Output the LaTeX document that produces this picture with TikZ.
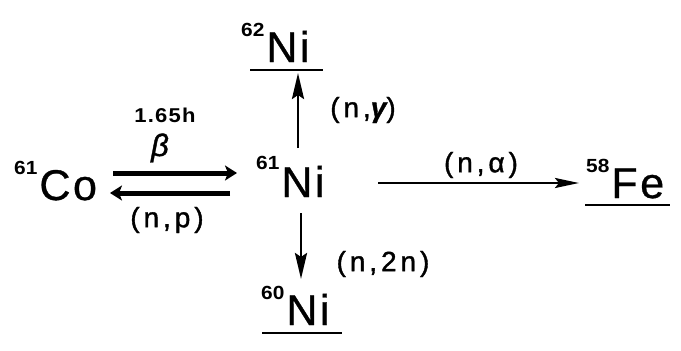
\documentclass[tikz,border=0pt]{standalone}
\usepackage{fontspec}
\setmainfont{Liberation Sans}
\newfontfamily\elfont[LetterSpace=6,FakeBold=0.8]{Liberation Sans}
\newfontfamily\labfont[LetterSpace=14,FakeBold=1.3]{Liberation Sans}
\newfontfamily\supfont[FakeStretch=1.1]{Liberation Sans Bold}
\usetikzlibrary{arrows.meta}
\newcommand\isoSup[2]{\raisebox{#1}{\supfont\fontsize{19}{19}\selectfont #2}\hspace{2pt}}
\tikzset{
  iso/.style={inner sep=0pt, anchor=base west, font={\elfont\fontsize{43}{43}\selectfont}},
  lab/.style={inner sep=0pt, font={\labfont\fontsize{28}{30}\selectfont}},
  thickarrow/.style={line width=5pt, -{Stealth[length=12pt,width=15pt,inset=3pt]}},
  thinarrow/.style={line width=2.8pt, -{Stealth[length=26pt,width=12pt,inset=4pt]}},
  longarrow/.style={line width=2.6pt, -{Stealth[length=24pt,width=10pt,inset=4pt]}},
  uline/.style={line width=2.8pt},
}
\begin{document}
\begin{tikzpicture}[x=1pt,y=-1pt]
\useasboundingbox (0,0) rectangle (681,351);
% isotopes
\node[iso] (co61) at (14,200) {\isoSup{26pt}{61}Co};
\node[iso] (ni61) at (256,197) {\isoSup{28pt}{61}Ni};
\node[iso] (ni62) at (241,62) {\isoSup{26pt}{62}Ni};
\node[iso] (ni60) at (261,325) {\isoSup{26pt}{60}Ni};
\node[iso] (fe58) at (586,198) {\isoSup{26pt}{58}Fe};
% labels
\node[inner sep=0pt, font={\supfont\fontsize{20}{24}\selectfont\addfontfeature{LetterSpace=6}}] (half) at (165,115) {1.65h};
\node[inner sep=0pt, font={\labfont\fontsize{31}{32}\selectfont\itshape}] (beta) at (160,148) {β};
\node[lab] (np) at (167,220) {(n,p)};
\node[lab] (ng) at (363,110) {(n,{\bfseries\itshape γ})};
\node[lab] (n2n) at (383,264) {(n,2n)};
\node[lab] (na) at (481,165) {(n,α)};
% connector end points
\coordinate (cofwd) at (113,173);
\coordinate (nifwd) at (237,173);
\coordinate (niback) at (230,193);
\coordinate (coback) at (110,193);
\coordinate (niup) at (298,148);
\coordinate (ni62in) at (298,73);
\coordinate (nidown) at (301,213);
\coordinate (ni60in) at (301,279);
\coordinate (niright) at (378,183);
\coordinate (fein) at (579,183);
% arrows
\draw[thickarrow] (cofwd) -- (nifwd);
\draw[thickarrow] (niback) -- (coback);
\draw[thinarrow] (niup) -- (ni62in);
\draw[thinarrow] (nidown) -- (ni60in);
\draw[longarrow] (niright) -- (fein);
% underlines
\draw[uline] (250,70) -- (323,70);
\draw[uline] (262,333) -- (342,333);
\draw[uline] (585,205) -- (670,205);
\end{tikzpicture}
\end{document}
